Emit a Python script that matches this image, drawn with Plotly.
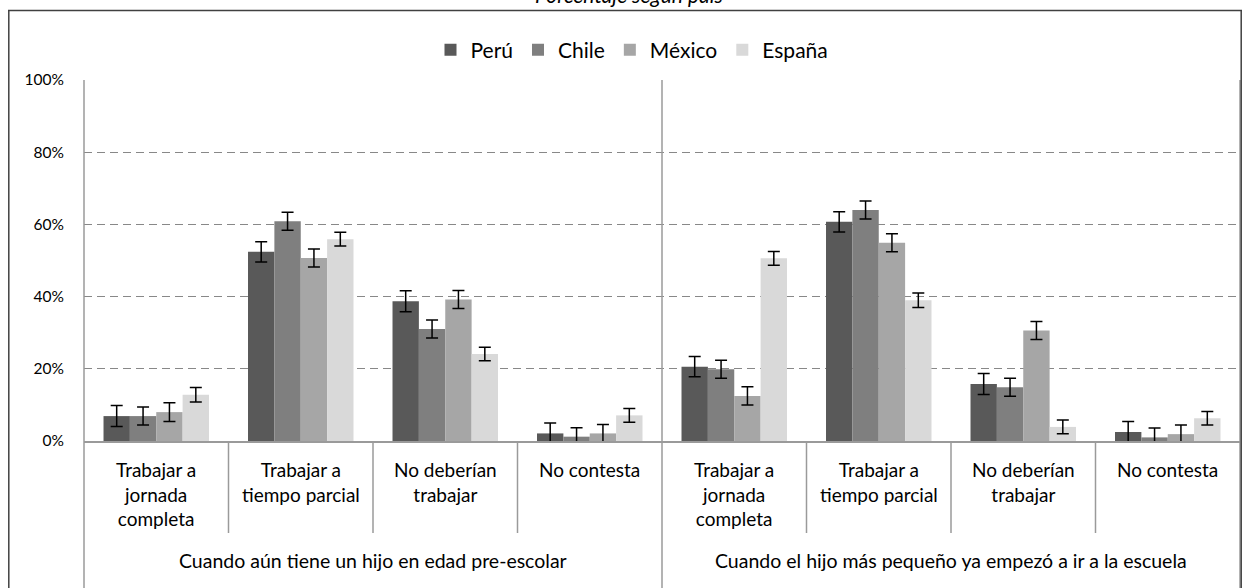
import plotly.graph_objects as go

# ---- data ----
groups = ["Cuando aún tiene un hijo en edad pre-escolar",
          "Cuando el hijo más pequeño ya empezó a ir a la escuela"]
answers = ["Trabajar a<br>jornada<br>completa", "Trabajar a<br>tiempo parcial",
           "No deberían<br>trabajar", "No contesta"]
countries = ["Perú", "Chile", "México", "España"]

peru = [6.9, 52.4, 38.7, 2.1, 20.6, 60.7, 15.8, 2.5]
chile = [6.9, 60.9, 31.0, 1.2, 19.9, 64.0, 14.9, 1.0]
mexico = [8.0, 50.7, 39.2, 2.1, 12.5, 54.9, 30.6, 1.9]
espana = [12.8, 55.9, 24.1, 7.1, 50.6, 39.0, 3.9, 6.3]

err_peru = [2.9, 2.8, 2.9, 2.9, 2.8, 2.8, 2.9, 2.9]
err_chile = [2.5, 2.5, 2.5, 2.5, 2.5, 2.5, 2.5, 2.6]
err_mexico = [2.6, 2.5, 2.5, 2.5, 2.5, 2.5, 2.5, 2.5]
err_espana = [2.0, 1.9, 1.9, 1.9, 1.9, 2.0, 1.9, 1.9]

yticks = [0, 20, 40, 60, 80, 100]
title_text = "Porcentaje según país"

# ---- styling ----
colors = ["#595959", "#7f7f7f", "#a6a6a6", "#d9d9d9"]
FONT = "Lato"
W, H = 1242, 588
# plot area in page pixels: x 84..1240, y 80..441
PL, PR, PT, PB = 84, 1240, 80, 441
ML, MR, MT, MB = PL, W - PR, PT, H - PB
plot_h = PB - PT
plot_w = PR - PL

keys = [f"{g}|{a}" for g in range(len(groups)) for a in range(len(answers))]

fig = go.Figure()
series = [peru, chile, mexico, espana]
errs = [err_peru, err_chile, err_mexico, err_espana]
for name, vals, e, c in zip(countries, series, errs, colors):
    fig.add_trace(go.Bar(
        x=keys, y=vals, name=name,
        marker=dict(color=c, line=dict(width=0)),
        error_y=dict(type="data", array=e, visible=True, color="#000000",
                     thickness=1.5, width=6),
    ))

def py(page_y):
    return (PB - page_y) / plot_h

def px_(page_x):
    return (page_x - PL) / plot_w

shapes = []
axis_col = "#9a9a9a"
for xp in [0, 1]:
    shapes.append(dict(type="line", xref="paper", yref="paper", x0=xp, x1=xp,
                       y0=py(H + 5), y1=1, line=dict(color=axis_col, width=1.5)))
n = len(keys)
for i in range(1, n):
    if i % len(answers) == 0:
        y1, y0 = 1, py(H + 5)
    else:
        y1, y0 = 0, py(533)
    shapes.append(dict(type="line", xref="x", yref="paper", x0=i - 0.5, x1=i - 0.5,
                       y0=y0, y1=y1, line=dict(color=axis_col, width=1.5)))
frame_col = "#404040"
shapes.append(dict(type="line", xref="paper", yref="paper", x0=px_(8), x1=px_(1245),
                   y0=py(10.5), y1=py(10.5), line=dict(color=frame_col, width=1.5)))
shapes.append(dict(type="line", xref="paper", yref="paper", x0=px_(8.8), x1=px_(8.8),
                   y0=py(10.5), y1=py(H + 5), line=dict(color=frame_col, width=1.5)))
shapes.append(dict(type="line", xref="paper", yref="paper", x0=px_(1241.2), x1=px_(1241.2),
                   y0=py(10.5), y1=py(H + 5), line=dict(color=frame_col, width=1.5)))

annotations = []
for i, k in enumerate(keys):
    a = answers[i % len(answers)]
    annotations.append(dict(x=k, xref="x", yref="paper", y=py(456), yanchor="top",
                            text=a, showarrow=False,
                            font=dict(family=FONT, size=19, color="#000000")))
for gi, g in enumerate(groups):
    center = gi * len(answers) + (len(answers) - 1) / 2
    annotations.append(dict(x=center, xref="x", yref="paper", y=py(560), yanchor="middle",
                            text=g, showarrow=False,
                            font=dict(family=FONT, size=19.5, color="#000000")))
annotations.append(dict(x=px_(629), xref="paper", yref="paper", y=py(-5.5), yanchor="middle",
                        text=f"<i>{title_text}</i>", showarrow=False,
                        font=dict(family=FONT, size=21, color="#000000")))

fig.update_layout(
    width=W, height=H,
    margin=dict(l=ML, r=MR, t=MT, b=MB, pad=0),
    paper_bgcolor="white", plot_bgcolor="white",
    barmode="group", bargap=0.27, bargroupgap=0,
    font=dict(family=FONT, color="#000000"),
    showlegend=True,
    legend=dict(orientation="h", x=px_(632), xanchor="center", y=py(50), yanchor="middle",
                font=dict(family=FONT, size=21, color="#000000"),
                itemwidth=30, traceorder="normal", bgcolor="rgba(0,0,0,0)"),
    shapes=shapes, annotations=annotations,
    hovermode=False,
)
fig.update_xaxes(type="category", range=[-0.5, n - 0.5], showticklabels=False,
                 showgrid=False, zeroline=False, showline=True, linecolor=axis_col,
                 linewidth=1.5, ticks="", fixedrange=True)
fig.update_yaxes(range=[0, 100], tickvals=yticks, ticktext=[f"{v}%" for v in yticks],
                 showgrid=True, gridcolor="#888888", gridwidth=1.3, griddash="8px,5px",
                 zeroline=False, showline=False, ticks="", ticklabelstandoff=19,
                 tickfont=dict(family=FONT, size=15.5, color="#000000"), fixedrange=True)

fig.write_html("out.html", config={"displayModeBar": False},
               post_script="document.body.style.margin='0';document.body.style.overflow='hidden';")
